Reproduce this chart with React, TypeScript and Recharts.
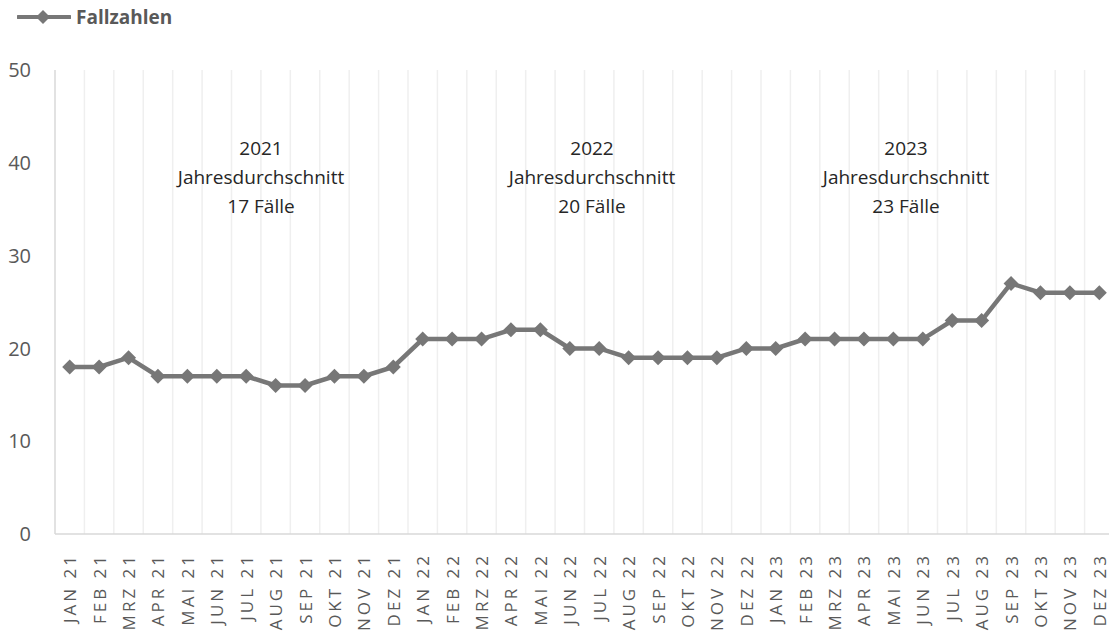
import { CartesianGrid, Line, LineChart, XAxis, YAxis } from "recharts";

const MONTHS = ["JAN", "FEB", "MRZ", "APR", "MAI", "JUN", "JUL", "AUG", "SEP", "OKT", "NOV", "DEZ"];
const YEARS = ["21", "22", "23"];
const cases2021 = [18, 18, 19, 17, 17, 17, 17, 16, 16, 17, 17, 18];
const cases2022 = [21, 21, 21, 22, 22, 20, 20, 19, 19, 19, 19, 20];
const cases2023 = [20, 21, 21, 21, 21, 21, 23, 23, 27, 26, 26, 26];
const yTicks = [0, 10, 20, 30, 40, 50];
const notes = [
  { year: "2021", avg: 17, x: 261 },
  { year: "2022", avg: 20, x: 592 },
  { year: "2023", avg: 23, x: 906 },
];

const data = [cases2021, cases2022, cases2023].flatMap((vals, yi) =>
  vals.map((v, mi) => ({ month: `${MONTHS[mi]} ${YEARS[yi]}`, cases: v }))
);

const C = { line: "#777777", text: "#595959", axis: "#d9d9d9", grid: "#efefef" };
const FONT = "'Open Sans', sans-serif";

function Diamond(props: any) {
  const { cx, cy } = props;
  if (cx == null || cy == null) return null;
  const r = 7.5;
  return (
    <polygon
      key={`d-${cx}`}
      points={`${cx},${cy - r} ${cx + r},${cy} ${cx},${cy + r} ${cx - r},${cy}`}
      fill={C.line}
    />
  );
}

function MonthTick({ x, y, payload }: any) {
  const ty = y + 11;
  return (
    <text
      x={x}
      y={ty}
      transform={`rotate(-90 ${x} ${ty})`}
      textAnchor="end"
      dominantBaseline="central"
      letterSpacing={3}
      fill={C.text}
      fontSize={17}
      fontFamily={FONT}
    >
      {payload.value}
    </text>
  );
}

export default function App() {
  const W = 1114;
  const H = 635;
  const plotW = W - 55;
  const pad = plotW / (data.length * 2);
  return (
    <div style={{ position: "absolute", left: 0, top: 0, width: 1109, height: H, overflow: "hidden", background: "#fff", fontFamily: FONT }}>
      <div style={{ position: "absolute", left: 17, top: 4, height: 26, display: "flex", alignItems: "center" }}>
        <svg width={54} height={20}>
          <line x1={1} y1={10} x2={53} y2={10} stroke={C.line} strokeWidth={4} strokeLinecap="round" />
          <polygon points="26,3 33,10 26,17 19,10" fill={C.line} />
        </svg>
        <span style={{ marginLeft: 5, fontWeight: 700, fontSize: 19, color: C.text }}>Fallzahlen</span>
      </div>
      <LineChart width={W} height={H} data={data} margin={{ top: 70, right: 0, bottom: 0, left: 0 }}>
        <CartesianGrid
          horizontal={false}
          stroke={C.grid}
          strokeWidth={1.5}
          verticalCoordinatesGenerator={({ offset }: any) =>
            data.map((_, i) => offset.left + ((i + 1) * offset.width) / data.length)
          }
        />
        <XAxis
          dataKey="month"
          interval={0}
          height={101}
          padding={{ left: pad, right: pad }}
          axisLine={{ stroke: C.axis, strokeWidth: 1.5 }}
          tickLine={false}
          tick={<MonthTick />}
        />
        <YAxis
          domain={[0, 50]}
          ticks={yTicks}
          width={55}
          axisLine={{ stroke: C.axis, strokeWidth: 1.5 }}
          tickLine={false}
          tickMargin={18}
          tick={{ fill: C.text, fontSize: 20, fontFamily: FONT }}
        />
        <Line
          type="linear"
          dataKey="cases"
          stroke={C.line}
          strokeWidth={4.5}
          dot={Diamond}
          activeDot={false}
          isAnimationActive={false}
        />
      </LineChart>
      {notes.map((n) => (
        <div
          key={n.year}
          style={{
            position: "absolute",
            left: n.x,
            top: 134,
            transform: "translateX(-50%)",
            textAlign: "center",
            fontSize: 19,
            lineHeight: "29px",
            color: "#262626",
            whiteSpace: "nowrap",
          }}
        >
          <div>{n.year}</div>
          <div>Jahresdurchschnitt</div>
          <div>{n.avg} Fälle</div>
        </div>
      ))}
    </div>
  );
}
